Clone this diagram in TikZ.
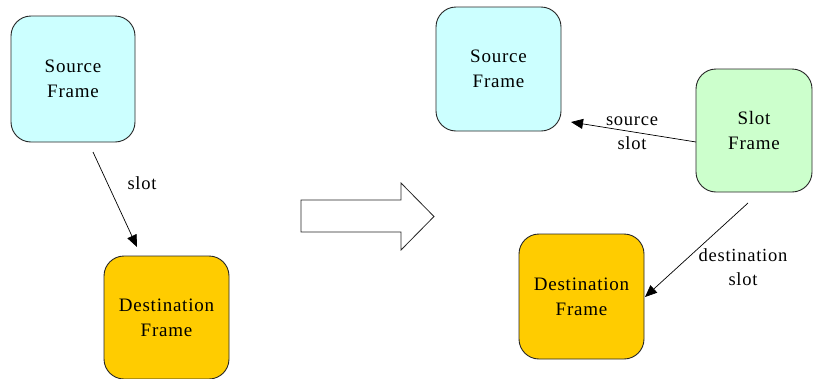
\documentclass[tikz,border=0pt]{standalone}
\usepackage{fontspec}
\setmainfont{Liberation Serif}[LetterSpace=4]
\usetikzlibrary{arrows.meta}
\definecolor{srccol}{HTML}{CCFFFF}
\definecolor{slotcol}{HTML}{CCFFCC}
\definecolor{dstcol}{HTML}{FFCC00}
\begin{document}
\begin{tikzpicture}[x=1pt,y=-1pt,
  frame/.style={draw=black!85, line width=0.9pt, rounded corners=20pt, align=center,
    font=\fontsize{19}{25}\selectfont, inner sep=0pt},
  lbl/.style={align=center, font=\fontsize{18.5}{24}\selectfont, inner sep=0pt},
  conn/.style={draw=black, line width=0.7pt, -{Triangle[length=12pt,width=10pt]}},
  bigarrow/.style={draw=black!85, line width=0.8pt, fill=white}]
\useasboundingbox (0,0) rectangle (813,378);
\clip (0,0) rectangle (813,378);
% left side
\node[frame, fill=srccol, minimum width=124pt, minimum height=126pt] (lsrc) at (73,79) {Source\\Frame};
\node[frame, fill=dstcol, minimum width=125pt, minimum height=123pt] (ldst) at (166.5,317.5) {Destination\\Frame};
\coordinate (ls1) at (93,152);
\coordinate (ls2) at (137,247);
\draw[conn] (ls1) -- (ls2);
\node[lbl] (lslot) at (142,183) {slot};
% big arrow
\draw[bigarrow] (301,200) -- (401,200) -- (401,183) -- (434,216.5) -- (401,250) -- (401,232) -- (301,232) -- cycle;
% right side
\node[frame, fill=srccol, minimum width=125pt, minimum height=124pt] (rsrc) at (498.5,69) {Source\\Frame};
\node[frame, fill=slotcol, minimum width=116pt, minimum height=123pt] (rslot) at (754,130.5) {Slot\\Frame};
\node[frame, fill=dstcol, minimum width=125pt, minimum height=125pt] (rdst) at (581.5,296.5) {Destination\\Frame};
\coordinate (rs1) at (696,142);
\coordinate (rs2) at (571,122);
\draw[conn] (rs1) -- (rs2);
\node[lbl] (lsrcslot) at (632,133) {source\\slot};
\coordinate (rd1) at (748,203);
\coordinate (rd2) at (645,297);
\draw[conn] (rd1) -- (rd2);
\node[lbl] (ldstslot) at (743,267) {destination\\slot};
\end{tikzpicture}
\end{document}
